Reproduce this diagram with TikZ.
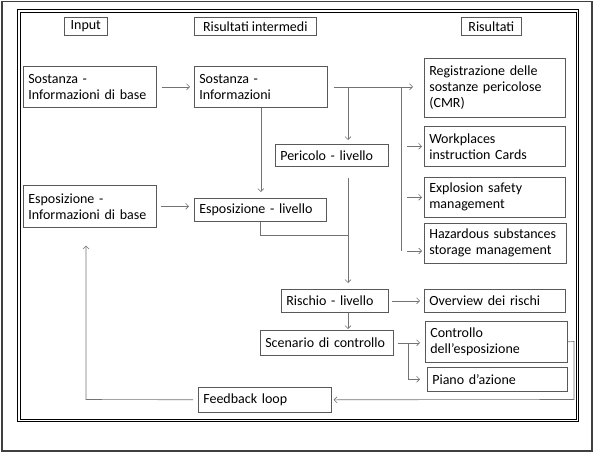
\documentclass[tikz,border=0pt]{standalone}
\usepackage{fontspec}
\setmainfont{Carlito}
\usepackage{tikz}
\usetikzlibrary{positioning,arrows.meta,calc}
\tikzset{
  box/.style     = {rectangle, draw=black!65, line width=0.6pt, anchor=north west,
                    align=left, inner xsep=5pt, inner ysep=1pt,
                    font=\fontsize{14}{16}\selectfont},
  head/.style    = {box, align=center, minimum height=18pt},
  link/.style    = {black!55, line width=0.6pt},
  flow/.style    = {link, -{Straight Barb[length=3pt,width=6pt]}},
}

\begin{document}
\begin{tikzpicture}[x=1pt, y=-1pt]
        \useasboundingbox (0,0) rectangle (596,455);

        % frames
        \draw[black!75, line width=1.2pt] (2,1.5) rectangle (592,451);
        \draw[black, line width=0.9pt] (17.5,9.8) rectangle (578,421.5);
        \draw[black, line width=0.6pt] (20,12.2) rectangle (575.8,419);

        % column heads
        \node[head, minimum width=43pt]  (inp)  at (64,17)  {Input};
        \node[head, minimum width=122pt] (midr) at (194,17) {Risultati intermedi};
        \node[head, minimum width=60pt]  (outr) at (461,17) {Risultati};

        % input boxes
        \node[box, minimum width=133pt, minimum height=41pt, text width=123pt] (sostBase) at (23,66)
             {Sostanza -\\Informazioni di base};
        \node[box, minimum width=133pt, minimum height=42pt, text width=123pt] (espBase) at (23,185)
             {Esposizione -\\Informazioni di base};

        % intermediate results
        \node[box, minimum width=133pt, minimum height=41pt, text width=123pt] (sostInfo) at (194,66)
             {Sostanza -\\Informazioni};
        \node[box, minimum width=113pt, minimum height=22pt, text width=103pt] (peric) at (275,144)
             {Pericolo - livello};
        \node[box, minimum width=132pt, minimum height=23pt, text width=122pt] (espLiv) at (194,198)
             {Esposizione - livello};
        \node[box, minimum width=107pt, minimum height=23pt, text width=97pt] (risch) at (281,289)
             {Rischio - livello};
        \node[box, minimum width=133pt, minimum height=25pt, text width=123pt] (scen) at (260,330)
             {Scenario di controllo};
        \node[box, minimum width=133pt, minimum height=25pt, text width=123pt] (feed) at (198,387)
             {Feedback loop};

        % results
        \node[box, minimum width=141pt, minimum height=59pt, text width=131pt] (reg) at (424,58)
             {Registrazione delle\\sostanze pericolose\\(CMR)};
        \node[box, minimum width=141pt, minimum height=40pt, text width=131pt] (work) at (424,126)
             {Workplaces\\instruction Cards};
        \node[box, minimum width=141pt, minimum height=40pt, text width=131pt] (expl) at (424,177)
             {Explosion safety\\management};
        \node[box, minimum width=142pt, minimum height=40pt, text width=132pt] (haz) at (424,223)
             {Hazardous substances\\storage management};
        \node[box, minimum width=141pt, minimum height=23pt, text width=131pt] (overv) at (424,289)
             {Overview dei rischi};
        \node[box, minimum width=142pt, minimum height=41pt, text width=132pt] (contr) at (425,321)
             {Controllo\\dell’esposizione};
        \node[box, minimum width=140pt, minimum height=24pt, text width=130pt] (piano) at (427,367)
             {Piano d’azione};

        % branch points
        \coordinate (j1)     at (348,86.5);
        \coordinate (bus)    at (401,86.5);
        \coordinate (busEnd) at (401,251);
        \coordinate (j2)     at (348,235);
        \coordinate (j3)     at (408,342.5);
        \coordinate (fb1)    at (574,341.5);
        \coordinate (fb2)    at (574,399.5);
        \coordinate (fb3)    at (86,399.5);

        % input to intermediate
        \draw[flow, shorten <=5pt, shorten >=4pt] (sostBase.east) -- (sostInfo.west);
        \draw[flow, shorten <=4pt, shorten >=5pt] (espBase.east) -- (espBase.east -| espLiv.west);
        \draw[flow, shorten >=6pt] (sostInfo.south) -- (sostInfo.south |- espLiv.north);

        % substance info to results
        \draw[flow, shorten <=6pt, shorten >=11pt] (sostInfo.east) -- (sostInfo.east -| reg.west);
        \draw[flow, shorten >=4pt] (j1) -- (j1 |- peric.north);
        \draw[link] (bus) -- (busEnd);
        \draw[flow, shorten <=6pt, shorten >=2pt] (bus |- work.west) -- (work.west);
        \draw[flow, shorten <=6pt, shorten >=2pt] (bus |- expl.west) -- (expl.west);
        \draw[flow, shorten <=6pt, shorten >=2pt] (busEnd) -- (busEnd -| haz.west);

        % levels
        \draw[link] (espLiv.south) -- (espLiv.south |- j2) -- (j2);
        \draw[flow, shorten <=11pt, shorten >=6pt] (j1 |- peric.south) -- (j1 |- risch.north);
        \draw[flow, shorten >=1pt] (j1 |- risch.south) -- (j1 |- scen.north);
        \draw[flow, shorten <=3pt, shorten >=4pt] (risch.east) -- (risch.east -| overv.west);
        \draw[flow, shorten <=4pt, shorten >=5pt] (scen.east) -- (scen.east -| contr.west);
        \draw[flow, shorten >=7pt] (j3) -- (j3 |- piano.west) -- (piano.west);

        % feedback loop
        \draw[flow, shorten >=2pt] (contr.east) -- (fb1) -- (fb2) -- (feed.east);
        \draw[flow, shorten <=5pt, shorten >=18pt] (feed.west) -- (fb3) -- (fb3 |- espBase.south);
\end{tikzpicture}
\end{document}
